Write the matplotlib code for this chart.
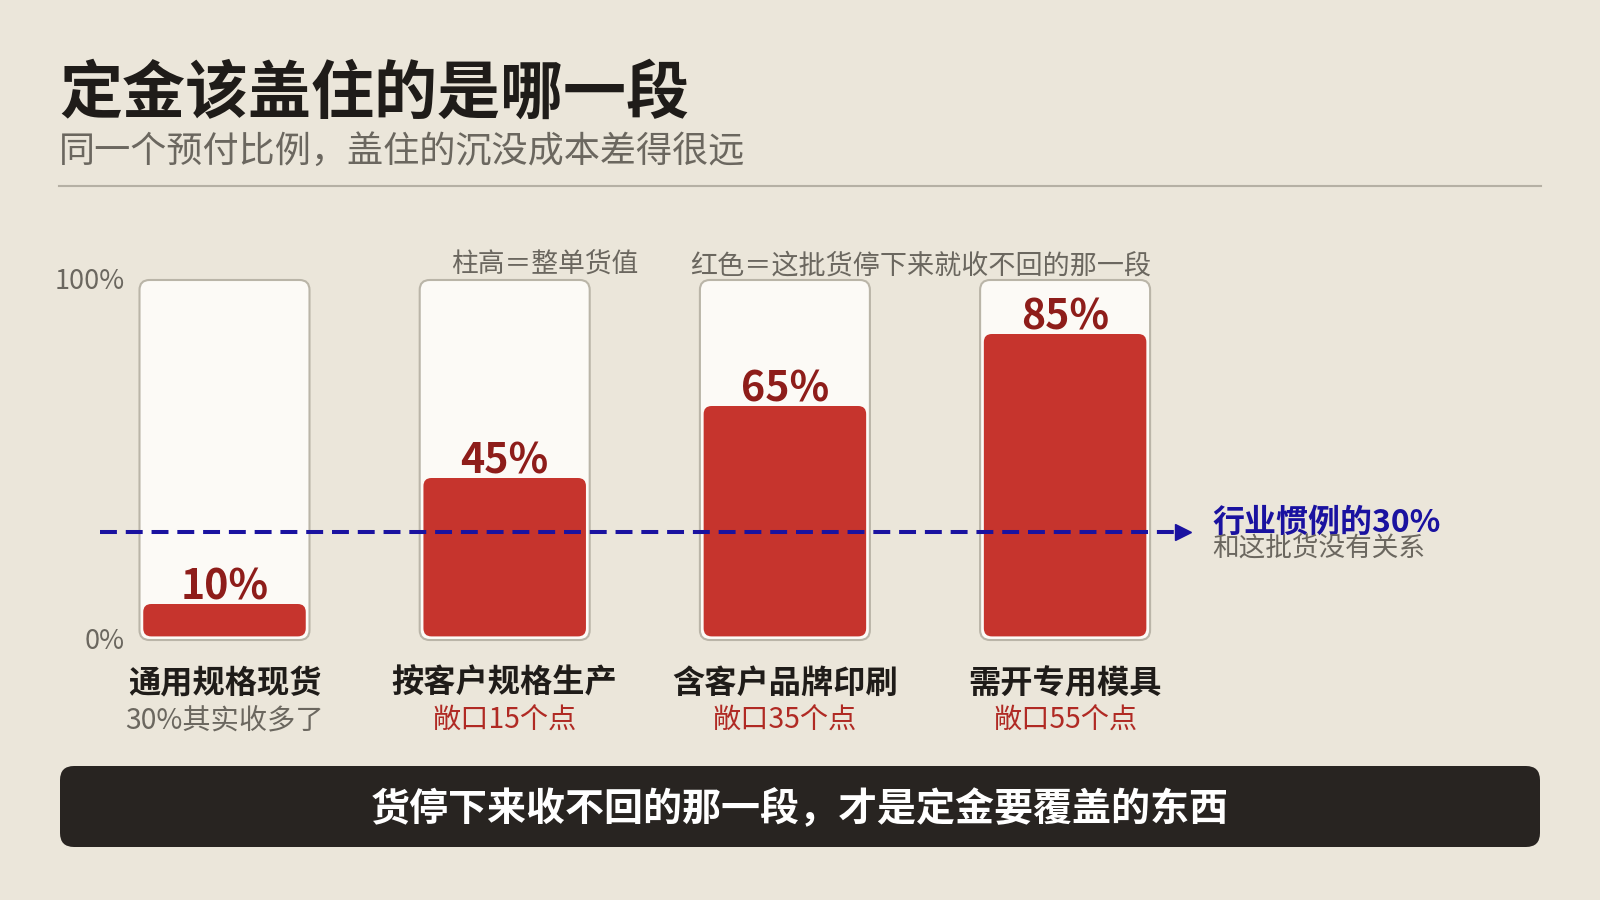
import matplotlib
matplotlib.use('Agg')
import matplotlib.pyplot as plt
from matplotlib.patches import FancyBboxPatch
from matplotlib.lines import Line2D
from matplotlib.transforms import Affine2D, blended_transform_factory

plt.rcParams['font.family'] = ['Noto Sans CJK SC', 'DejaVu Sans']

# ---------------- data ----------------
title = '定金该盖住的是哪一段'
subtitle = '同一个预付比例，盖住的沉没成本差得很远'
categories = ['通用规格现货', '按客户规格生产', '含客户品牌印刷', '需开专用模具']
sunk_pct = [10, 45, 65, 85]
sub_labels = ['30%其实收多了', '敞口15个点', '敞口35个点', '敞口55个点']
industry_pct = 30
y_ticks = [0, 100]
y_tick_labels = ['0%', '100%']
note_height = '柱高＝整单货值'
note_red = '红色＝这批货停下来就收不回的那一段'
ref_label = '行业惯例的30%'
ref_sub = '和这批货没有关系'
footer = '货停下来收不回的那一段，才是定金要覆盖的东西'

# ---------------- style ----------------
BG = '#ebe6da'
BOX_FC = '#fcfaf6'
BOX_EC = '#bab5a8'
RED = '#c6342d'
DARKRED = '#8e1d1a'
SUBRED = '#b02a24'
BLUE = '#1a12a0'
GRAY = '#6b675f'
INK = '#1f1c19'
FOOT = '#282421'

W, H = 1600, 900
fig = plt.figure(figsize=(16, 9), dpi=100, facecolor=BG)
pix = Affine2D().scale(1 / W, -1 / H).translate(0, 1) + fig.transFigure
pixb = Affine2D().scale(1 / W, 1 / H) + fig.transFigure

# header
fig.text(59, 113, title, transform=pix, fontsize=45.4, fontweight='bold',
         color=INK, va='baseline', ha='left')
fig.text(59, 162, subtitle, transform=pix, fontsize=26, color=GRAY,
         va='baseline', ha='left')
fig.add_artist(Line2D([59, 1541], [186, 186], transform=pix, color='#b5b0a4', lw=1.5))

# chart axes
x0_px, step_px = 224.5, 280.2
ax = fig.add_axes([0, 260 / H, 1, 360 / H])
ax.set_xlim(-x0_px / step_px, (W - x0_px) / step_px)
ax.set_ylim(0, 100)
ax.axis('off')
ax.patch.set_alpha(0)
ppx = step_px
ppy = 360 / 100
aspect = ppx / ppy

bw = 170 / ppx
rw = 162.5 / ppx
inset = 3.6 / ppy

for i, v in enumerate(sunk_pct):
    box = FancyBboxPatch((i - bw / 2, 0), bw, 100,
                         boxstyle=f'round,pad=0,rounding_size={10 / ppx}',
                         mutation_aspect=aspect, fc=BOX_FC, ec=BOX_EC, lw=1.5,
                         transform=ax.transData, clip_on=False, zorder=2)
    ax.add_patch(box)
    bar = FancyBboxPatch((i - rw / 2, inset), rw, v - inset,
                         boxstyle=f'round,pad=0,rounding_size={8 / ppx}',
                         mutation_aspect=aspect, fc=RED, ec='none',
                         transform=ax.transData, clip_on=False, zorder=3)
    ax.add_patch(bar)
    ax.text(i, v + 4 / ppy, f'{v}%', ha='center', va='baseline', fontsize=29.6,
            fontweight='bold', color=DARKRED, zorder=5)

# y tick labels
for t, lab in zip(y_ticks, y_tick_labels):
    ax.text(-(x0_px - 124.5) / ppx, t - 9 / ppy, lab, ha='right', va='baseline',
            fontsize=19.5, color=GRAY)

# category labels
bt = blended_transform_factory(ax.transData, pix)
for i, (c, s) in enumerate(zip(categories, sub_labels)):
    ax.text(i, 693, c, transform=bt, ha='center', va='baseline', fontsize=23.2,
            fontweight='bold', color=INK)
    col = GRAY if sunk_pct[i] <= industry_pct else SUBRED
    ax.text(i, 729, s, transform=bt, ha='center', va='baseline', fontsize=20.3,
            color=col)

# notes above
fig.text(638, 273, note_height, transform=pix, ha='right', va='baseline',
         fontsize=19.3, color=GRAY)
fig.text(1151, 273, note_red, transform=pix, ha='right', va='baseline',
         fontsize=19.5, color=GRAY)

# industry reference line
lx0 = (100 - x0_px) / ppx
lx1 = (1180 - x0_px) / ppx
ax.plot([lx0, lx1], [industry_pct, industry_pct], color=BLUE, lw=2.9,
        dashes=(4.2, 2.2), zorder=6, clip_on=False, solid_capstyle='butt',
        dash_capstyle='butt')
ax.plot([(1182.5 - x0_px) / ppx], [industry_pct], marker='>', ms=11,
        color=BLUE, mec=BLUE, zorder=7, clip_on=False)
fig.text(1212, 532, ref_label, transform=pix, ha='left', va='baseline',
         fontsize=23, fontweight='bold', color=BLUE)
fig.text(1212, 557, ref_sub, transform=pix, ha='left', va='baseline',
         fontsize=19.2, color=GRAY)

# footer
fb = FancyBboxPatch((60, H - 847), 1480, 81,
                    boxstyle='round,pad=0,rounding_size=14',
                    fc=FOOT, ec='none', transform=pixb)
fig.add_artist(fb)
fig.text(800, 821, footer, transform=pix, ha='center', va='baseline',
         fontsize=28.1, fontweight='bold', color='white')

fig.savefig('out.png', dpi=100, facecolor=BG)
